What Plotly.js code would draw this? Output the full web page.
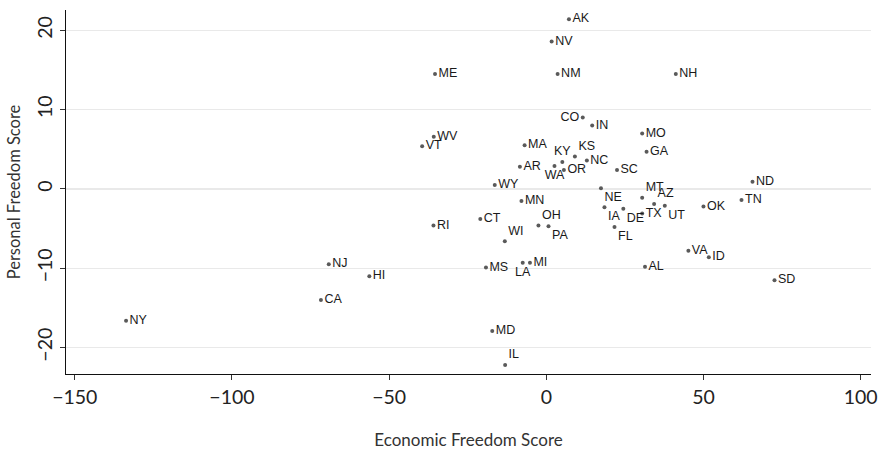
<!DOCTYPE html>
<html>
<head>
<meta charset="utf-8">
<script src="https://cdn.plot.ly/plotly-3.0.1.min.js"></script>
<style>html,body{margin:0;padding:0;background:#fff;}#chart{width:882px;height:451px;}</style>
</head>
<body>
<div id="chart"></div>
<script>
const states = ["AK","NV","ME","NM","NH","CO","IN","MO","MA","GA","KY","KS","NC","WA","OR","AR","SC","WY","NE","MT","AZ","UT","TX","IA","DE","FL","OK","MN","CT","OH","PA","WI","RI","MS","LA","MI","AL","VA","ND","TN","ID","SD","NJ","HI","CA","MD","IL","WV","VT","NY"];
const economicFreedom = [7.2,1.7,-35.4,3.6,41.2,11.6,14.6,30.5,-6.9,31.9,5.1,9.1,12.9,2.6,5.6,-8.4,22.5,-16.4,17.4,30.5,34.3,37.7,30.5,18.5,24.5,21.7,50.0,-7.9,-21.0,-2.5,0.7,-13.2,-35.9,-19.2,-7.5,-5.2,31.4,45.2,65.6,62.1,51.7,72.6,-69.2,-56.3,-71.7,-17.2,-13.1,-35.8,-39.5,-133.7];
const personalFreedom = [21.4,18.6,14.5,14.5,14.5,9.0,8.0,7.0,5.5,4.7,3.4,4.1,3.6,2.9,2.4,2.8,2.4,0.5,0.1,-1.1,-1.9,-2.1,-3.1,-2.3,-2.5,-4.8,-2.2,-1.5,-3.8,-4.6,-4.7,-6.6,-4.6,-9.9,-9.3,-9.3,-9.8,-7.8,0.9,-1.4,-8.6,-11.5,-9.5,-11.0,-14.0,-17.9,-22.2,6.6,5.4,-16.6];
const labelPosition = {KY:"top center",KS:"top right",WA:"bottom center",LA:"bottom center",NE:"bottom right",MT:"top right",AZ:"top right",UT:"bottom right",IA:"bottom right",DE:"bottom right",FL:"bottom right",OH:"top right",PA:"bottom right",WI:"top right",IL:"top right",CO:"middle left"};
const xTicks = [-150,-100,-50,0,50,100];
const xTickText = ["\u2212150","\u2212100","\u221250","0","50","100"];
const yTicks = [-20,-10,0,10,20];
const yTickText = ["\u221220","\u221210","0","10","20"];

const trace = {
  x: economicFreedom,
  y: personalFreedom,
  text: states,
  mode: "markers+text",
  type: "scatter",
  textposition: states.map(s => labelPosition[s] || "middle right"),
  textfont: {family: "Liberation Sans, Arial, sans-serif", size: 12.5, color: "#1a1a1a"},
  marker: {size: 4, color: "#5a5a5a"},
  cliponaxis: false,
  hoverinfo: "skip"
};

const layout = {
  width: 882, height: 451,
  margin: {l: 66, r: 11, t: 10, b: 77},
  paper_bgcolor: "#fff", plot_bgcolor: "#fff",
  showlegend: false,
  font: {family: "Lato, Open Sans, sans-serif", color: "#222"},
  xaxis: {
    range: [-152.8, 103.3],
    tickvals: xTicks, ticktext: xTickText,
    showgrid: false, zeroline: false,
    showline: true, linecolor: "#111", linewidth: 1.3,
    ticks: "outside", ticklen: 5, tickcolor: "#333", tickwidth: 1,
    tickfont: {size: 19.5, color: "#222", family: "Lato, sans-serif"},
    title: {text: "Economic Freedom Score", font: {size: 17, color: "#333", family: "Lato, sans-serif"}, standoff: 27}
  },
  yaxis: {
    range: [-23.33, 22.57],
    tickvals: yTicks, ticktext: yTickText,
    tickangle: -90,
    showgrid: true, gridcolor: "#e9e9e9", gridwidth: 1.2,
    zeroline: false,
    showline: true, linecolor: "#111", linewidth: 1.3,
    ticks: "outside", ticklen: 5, tickcolor: "#333", tickwidth: 1,
    tickfont: {size: 19.5, color: "#222", family: "Lato, sans-serif"},
    title: {text: "Personal Freedom Score", font: {size: 16.5, color: "#333", family: "Lato, sans-serif"}, standoff: 8}
  }
};

Plotly.newPlot("chart", [trace], layout, {displayModeBar: false, staticPlot: true});
</script>
</body>
</html>
